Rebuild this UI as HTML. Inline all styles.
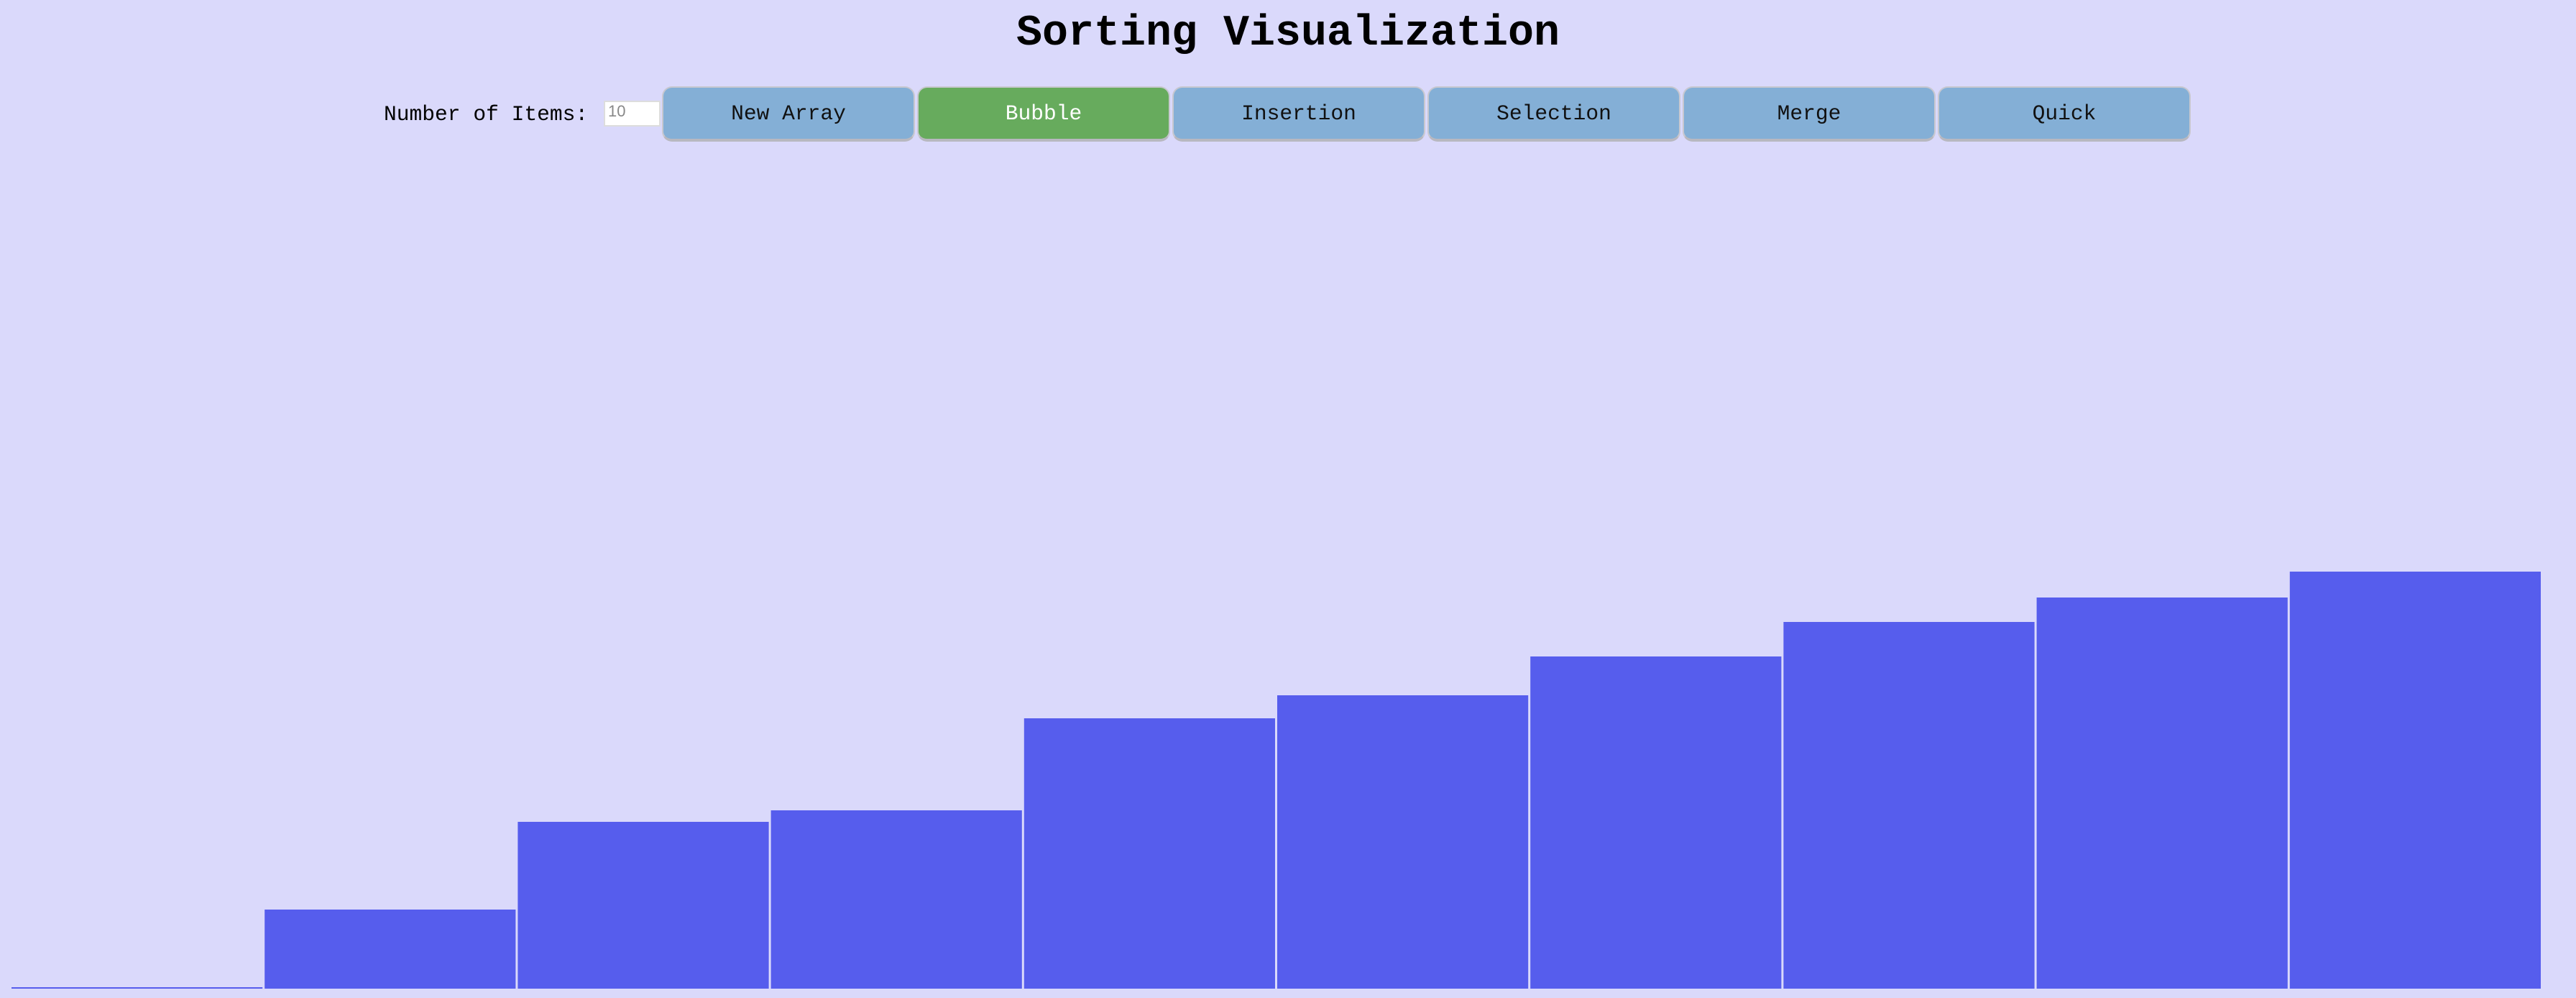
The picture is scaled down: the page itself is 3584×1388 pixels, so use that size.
<!DOCTYPE html>
<html><head><meta charset="utf-8"><style>
html,body{margin:0;padding:0;width:3584px;height:1388px;background:#dad9fb;overflow:hidden;font-family:"Liberation Mono",monospace;}
#title{position:absolute;left:0;width:3584px;top:8px;text-align:center;font-size:60px;font-weight:bold;margin:0;line-height:78px;}
#label{position:absolute;left:534px;top:140px;font-size:29.6px;line-height:38px;}
#num{position:absolute;left:840px;top:140px;width:79px;height:36px;box-sizing:border-box;border:2px solid #ddd;background:#fff;color:#888;font-size:22px;font-family:"Liberation Sans",sans-serif;padding:0 4px;}
.btn{position:absolute;top:120px;width:352px;height:77px;box-sizing:border-box;border:2px solid #c8c8d0;border-bottom:4px solid #b8b8c0;border-radius:14px;background:#84afd6;font-family:"Liberation Mono",monospace;font-size:29.6px;color:#111;text-align:center;line-height:72px;}
.green{background:#67ab5d;color:#fff;}
#chart{position:absolute;left:0;top:0;}
</style></head><body>
<h1 id="title">Sorting Visualization</h1>
<div id="label">Number of Items:</div>
<div id="num">10</div>
<div class="btn" style="left:921px">New Array</div>
<div class="btn green" style="left:1276px">Bubble</div>
<div class="btn" style="left:1631px">Insertion</div>
<div class="btn" style="left:1986px">Selection</div>
<div class="btn" style="left:2341px">Merge</div>
<div class="btn" style="left:2696px">Quick</div>
<svg id="chart" width="3584" height="1388"></svg>
<script>
const values = [2, 110, 232, 248, 376, 408, 462, 510, 544, 580];
const categories = ["0","1","2","3","4","5","6","7","8","9"];
const svg = document.getElementById('chart');
const x0 = 16, x1 = 3538, baseY = 1375, gap = 3;
const pitch = (x1 - x0) / categories.length;
function xPos(i){ return x0 + i * pitch; }
function yPos(v){ return baseY - v; }
values.forEach((v, i) => {
  const r = document.createElementNS('http://www.w3.org/2000/svg', 'rect');
  r.setAttribute('x', xPos(i));
  r.setAttribute('y', yPos(v));
  r.setAttribute('width', pitch - gap);
  r.setAttribute('height', baseY - yPos(v));
  r.setAttribute('fill', '#565ded');
  
  
  svg.appendChild(r);
});
</script>
</body></html>
